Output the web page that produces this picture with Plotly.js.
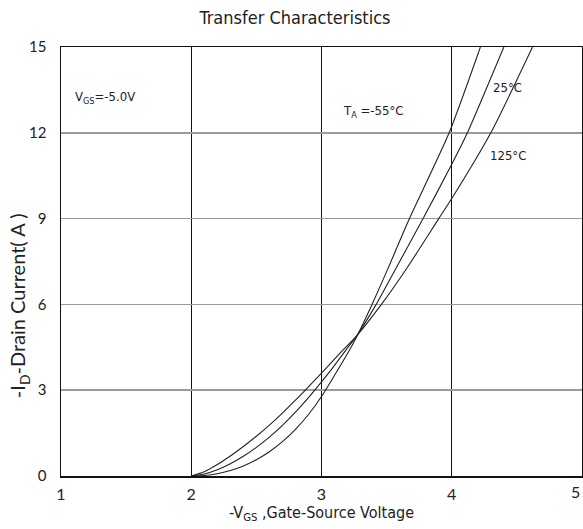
<!DOCTYPE html>
<html>
<head>
<meta charset="utf-8">
<script src="https://cdn.plot.ly/plotly-3.0.1.min.js"></script>
<style>html,body{margin:0;padding:0;background:#fff;}#chart{width:583px;height:529px;}</style>
</head>
<body>
<div id="chart"></div>
<script>
// -VGS (V) and -ID (A)
var vgsM55 = [2.0, 2.1, 2.2, 2.3, 2.4, 2.5, 2.6, 2.7, 2.8, 2.9, 3.0, 3.1, 3.2, 3.27, 3.38, 3.51, 3.67, 3.98, 4.22];
var idM55  = [0.0, 0.02, 0.08, 0.19, 0.35, 0.57, 0.85, 1.20, 1.63, 2.15, 2.78, 3.52, 4.28, 4.87, 5.92, 7.25, 8.95, 12.0, 15.0];
var vgs25  = [2.0, 2.1, 2.2, 2.3, 2.4, 2.5, 2.6, 2.7, 2.8, 2.9, 3.0, 3.1, 3.2, 3.27, 3.42, 3.57, 3.78, 4.0, 4.12, 4.40];
var id25   = [0.0, 0.07, 0.22, 0.43, 0.69, 1.0, 1.36, 1.77, 2.23, 2.74, 3.29, 3.87, 4.48, 4.9, 6.0, 7.25, 9.0, 10.9, 12.0, 15.0];
var vgs125 = [2.0, 2.1, 2.2, 2.3, 2.4, 2.5, 2.6, 2.7, 2.8, 2.9, 3.0, 3.1, 3.2, 3.27, 3.46, 3.66, 3.9, 4.0, 4.30, 4.62];
var id125  = [0.0, 0.15, 0.40, 0.70, 1.03, 1.39, 1.78, 2.20, 2.65, 3.12, 3.60, 4.09, 4.57, 4.9, 6.0, 7.3, 9.0, 9.7, 12.0, 15.0];

var xTicks = [1, 2, 3, 4, 5];
var yTicks = [0, 3, 6, 9, 12, 15];

var titleText = "Transfer Characteristics";
var xTitle = "-V<sub>GS</sub> ,Gate-Source Voltage";
var yTitle = "-I<sub>D</sub>-Drain Current( A )";
var labelVgs = "V<sub>GS</sub>=-5.0V";
var labelM55 = "T<sub>A</sub> =-55°C";
var label25 = "25°C";
var label125 = "125°C";

var narrow = "DejaVu Sans Condensed, Liberation Sans Narrow, sans-serif";
var lineStyle = {color: "#222", width: 1.1, shape: "spline", smoothing: 0.6};

var traces = [
  {x: vgsM55, y: idM55, mode: "lines", line: lineStyle, name: "-55", showlegend: false, hoverinfo: "skip"},
  {x: vgs25, y: id25, mode: "lines", line: lineStyle, name: "25", showlegend: false, hoverinfo: "skip"},
  {x: vgs125, y: id125, mode: "lines", line: lineStyle, name: "125", showlegend: false, hoverinfo: "skip"}
];

var lastTick = xTicks[xTicks.length - 1];
var tickTextX = xTicks.map(function (v) { return v === lastTick ? "" : String(v); });

var layout = {
  width: 583, height: 529,
  margin: {l: 61, r: 1, t: 47, b: 53, pad: 0},
  paper_bgcolor: "#fff", plot_bgcolor: "#fff",
  font: {family: "Lato, Open Sans, sans-serif", color: "#222", size: 14},
  title: {text: titleText, xref: "container", x: 0.506, xanchor: "center", yref: "container", y: 0.966, yanchor: "middle",
          font: {family: narrow, size: 18, color: "#222"}},
  xaxis: {
    range: [1, 5], tickvals: xTicks, ticktext: tickTextX,
    showgrid: true, gridcolor: "#111", gridwidth: 1.2,
    zeroline: false, showline: true, linecolor: "#111", linewidth: 1.5, mirror: true,
    ticks: "", ticklabelstandoff: 3, tickfont: {family: "Lato, sans-serif", size: 16, color: "#222"},
    title: {text: xTitle, font: {family: narrow, size: 16, color: "#222"}, standoff: 2},
    automargin: false, fixedrange: true
  },
  yaxis: {
    range: [0, 15], tickvals: yTicks, ticktext: yTicks.map(String),
    showgrid: true, gridcolor: "#9a9a9a", gridwidth: 1.5,
    zeroline: false, showline: true, linecolor: "#111", linewidth: 1.5, mirror: true,
    ticks: "", ticklabelstandoff: 10, tickfont: {family: "Lato, sans-serif", size: 15, color: "#222"},
    title: {text: ""},
    automargin: false, fixedrange: true
  },
  annotations: [
    {x: -0.080, y: 5.95, xref: "paper", yref: "y", text: yTitle, textangle: -90, showarrow: false,
     xanchor: "center", yanchor: "middle", font: {family: "Lato, sans-serif", size: 20, color: "#222"}},
    {x: 1, y: 0, xref: "paper", yref: "paper", text: String(lastTick), showarrow: false,
     xanchor: "right", yanchor: "top", yshift: -4, font: {family: "Lato, sans-serif", size: 16, color: "#222"}},
    {x: 1.09, y: 13.25, xref: "x", yref: "y", text: labelVgs, showarrow: false, xanchor: "left", yanchor: "middle", font: {family: narrow, size: 13, color: "#222"}},
    {x: 3.15, y: 12.75, xref: "x", yref: "y", text: labelM55, showarrow: false, xanchor: "left", yanchor: "middle", font: {family: narrow, size: 13, color: "#222"}},
    {x: 4.30, y: 13.6, xref: "x", yref: "y", text: label25, showarrow: false, xanchor: "left", yanchor: "middle", font: {family: narrow, size: 13, color: "#222"}},
    {x: 4.28, y: 11.2, xref: "x", yref: "y", text: label125, showarrow: false, xanchor: "left", yanchor: "middle", font: {family: narrow, size: 13, color: "#222"}}
  ]
};

Plotly.newPlot("chart", traces, layout, {staticPlot: true, displayModeBar: false});
</script>
</body>
</html>
